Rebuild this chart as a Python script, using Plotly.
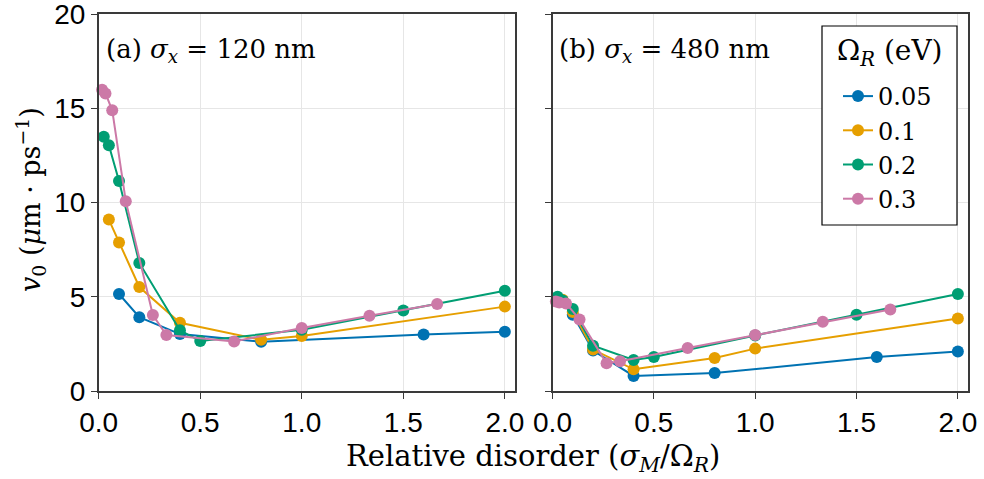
import plotly.graph_objects as go

# Rabi splittings (eV) and the disorder ratios sampled for each
omega_labels = ["0.05", "0.1", "0.2", "0.3"]
colors = ["#0072B2", "#E69F00", "#009E73", "#CC79A7"]

x_005 = [0.1, 0.2, 0.4, 0.8, 1.6, 2.0]
x_01 = [0.05, 0.1, 0.2, 0.4, 0.8, 1.0, 2.0]
x_02 = [0.025, 0.05, 0.1, 0.2, 0.4, 0.5, 1.0, 1.5, 2.0]
x_03 = [0.0167, 0.0333, 0.0667, 0.1333, 0.2667, 0.3333, 0.6667, 1.0, 1.3333, 1.6667]

# (a) sigma_x = 120 nm
v_a_005 = [5.15, 3.92, 3.02, 2.62, 3.0, 3.15]
v_a_01 = [9.1, 7.88, 5.52, 3.62, 2.72, 2.92, 4.48]
v_a_02 = [13.5, 13.05, 11.15, 6.8, 3.22, 2.65, 3.25, 4.28, 5.32]
v_a_03 = [16.0, 15.8, 14.9, 10.08, 4.03, 2.97, 2.63, 3.35, 4.0, 4.62]

# (b) sigma_x = 480 nm
v_b_005 = [4.05, 2.15, 0.8, 0.95, 1.8, 2.1]
v_b_01 = [4.85, 4.2, 2.2, 1.15, 1.75, 2.25, 3.85]
v_b_02 = [5.0, 4.8, 4.35, 2.4, 1.65, 1.8, 2.95, 4.05, 5.15]
v_b_03 = [4.75, 4.7, 4.65, 3.8, 1.47, 1.58, 2.28, 2.97, 3.68, 4.33]

xs = [x_005, x_01, x_02, x_03]
panel_a = [v_a_005, v_a_01, v_a_02, v_a_03]
panel_b = [v_b_005, v_b_01, v_b_02, v_b_03]

x_ticks = [0.0, 0.5, 1.0, 1.5, 2.0]
y_ticks = [0, 5, 10, 15, 20]

SERIF = "DejaVu Serif"
SANS = "Liberation Sans"
W, H = 984, 479

fig = go.Figure()

for i, (lab, col) in enumerate(zip(omega_labels, colors)):
    fig.add_trace(go.Scatter(
        x=xs[i], y=panel_a[i], mode="lines+markers", name=lab,
        line=dict(color=col, width=2), marker=dict(color=col, size=12),
        xaxis="x", yaxis="y", showlegend=False, cliponaxis=False,
    ))
for i, (lab, col) in enumerate(zip(omega_labels, colors)):
    fig.add_trace(go.Scatter(
        x=xs[i], y=panel_b[i], mode="lines+markers", name=lab,
        line=dict(color=col, width=2), marker=dict(color=col, size=12),
        xaxis="x2", yaxis="y2", showlegend=True, cliponaxis=False,
    ))

axis_common = dict(
    showline=True, linecolor="#3a3a3a", linewidth=1.5, mirror=True,
    ticks="outside", ticklen=6, tickcolor="#3a3a3a", tickwidth=1.2,
    showgrid=True, gridcolor="#e6e6e6", gridwidth=1, zeroline=False,
    ticklabeloverflow="allow", automargin=False,
    tickfont=dict(family=SANS, size=28, color="black"),
)

x_left = (98.7 / W, 515 / W)
x_right = (552.5 / W, 968 / W)
y_dom = (1 - 391 / H, 1 - 14.3 / H)

# legend frame (paper px)
LX0, LX1, LY0, LY1 = 822, 957, 26, 225

fig.update_layout(
    width=W, height=H,
    margin=dict(l=0, r=0, t=0, b=0, pad=0),
    paper_bgcolor="white", plot_bgcolor="white",
    xaxis=dict(domain=x_left, range=[0, 2.05], tickvals=x_ticks,
               ticktext=[f"{v:.1f}" for v in x_ticks], anchor="y", **axis_common),
    yaxis=dict(domain=y_dom, range=[0, 20], tickvals=y_ticks, anchor="x", **axis_common),
    xaxis2=dict(domain=x_right, range=[0, 2.05], tickvals=x_ticks,
                ticktext=[f"{v:.1f}" for v in x_ticks], anchor="y2", **axis_common),
    yaxis2=dict(domain=y_dom, range=[0, 20], tickvals=y_ticks, anchor="x2",
                showticklabels=False, **axis_common),
    legend=dict(
        x=838 / W, y=1 - 74 / H, xanchor="left", yanchor="top",
        bgcolor="rgba(0,0,0,0)", borderwidth=0,
        font=dict(family=SERIF, size=24, color="black"),
        itemwidth=30, tracegroupgap=0,
    ),
    shapes=[
        dict(type="rect", xref="paper", yref="paper",
             x0=LX0 / W, x1=LX1 / W, y0=1 - LY1 / H, y1=1 - LY0 / H,
             line=dict(color="black", width=1.2), fillcolor="white", layer="above"),
    ],
    annotations=[
        dict(text="Ω<sub><i>R</i></sub> (eV)", x=(LX0 + LX1) / 2 / W, y=1 - 52 / H,
             xref="paper", yref="paper", xanchor="center", yanchor="middle",
             showarrow=False, font=dict(family=SERIF, size=28, color="black")),
        dict(text="(a) <i>σ<sub>x</sub></i> = 120 nm", x=104 / W, y=1 - 50 / H,
             xref="paper", yref="paper", xanchor="left", yanchor="middle",
             showarrow=False, font=dict(family=SERIF, size=26, color="black")),
        dict(text="(b) <i>σ<sub>x</sub></i> = 480 nm", x=557 / W, y=1 - 50 / H,
             xref="paper", yref="paper", xanchor="left", yanchor="middle",
             showarrow=False, font=dict(family=SERIF, size=26, color="black")),
        dict(text="Relative disorder (<i>σ<sub>M</sub></i>/Ω<sub><i>R</i></sub>)",
             x=533 / W, y=1 - 458 / H, xref="paper", yref="paper",
             xanchor="center", yanchor="middle", showarrow=False,
             font=dict(family=SERIF, size=29, color="black")),
        dict(text="<i>v</i><sub>0</sub> (<i>μ</i>m · ps<sup>−1</sup>)",
             x=30 / W, y=1 - 200 / H, xref="paper", yref="paper",
             xanchor="center", yanchor="middle", textangle=-90, showarrow=False,
             font=dict(family=SERIF, size=27, color="black")),
    ],
)

fig.write_html("out.html")
